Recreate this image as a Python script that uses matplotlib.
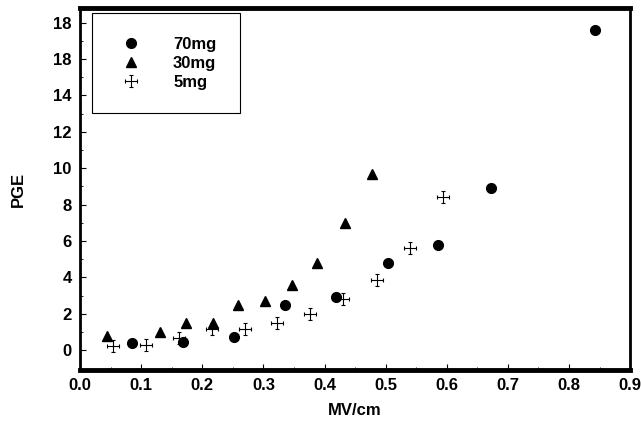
import matplotlib
matplotlib.use('Agg')
import matplotlib.pyplot as plt
from matplotlib.path import Path

# values
x70 = [0.085, 0.168, 0.251, 0.336, 0.419, 0.503, 0.586, 0.672, 0.842]
y70 = [0.4, 0.45, 0.7, 2.5, 2.9, 4.8, 5.8, 8.9, 17.6]
x30 = [0.044, 0.130, 0.174, 0.217, 0.259, 0.303, 0.347, 0.388, 0.433, 0.477]
y30 = [0.8, 1.0, 1.5, 1.5, 2.5, 2.7, 3.6, 4.8, 7.0, 9.7]
x5 = [0.054, 0.107, 0.161, 0.215, 0.269, 0.322, 0.376, 0.430, 0.485, 0.539, 0.594]
y5 = [0.2, 0.3, 0.65, 1.15, 1.15, 1.5, 2.0, 2.8, 3.85, 5.6, 8.4]

yticks = [0, 2, 4, 6, 8, 10, 12, 14, 16, 18]
ylabels = ['0', '2', '4', '6', '8', '10', '12', '14', '18', '18']
xticks = [0.0, 0.1, 0.2, 0.3, 0.4, 0.5, 0.6, 0.7, 0.8, 0.9]

plt.rcParams['font.family'] = ['Liberation Sans', 'DejaVu Sans']
plt.rcParams['font.weight'] = 'bold'

# plus sign with little end caps, like the scanned 5mg symbol
c = 0.35
verts = [(-1, 0), (1, 0), (0, -1), (0, 1),
         (-1, -c), (-1, c), (1, -c), (1, c),
         (-c, -1), (c, -1), (-c, 1), (c, 1)]
codes = [Path.MOVETO, Path.LINETO] * 6
capplus = Path(verts, codes)

fig = plt.figure(figsize=(6.41, 4.24), dpi=100)
ax = fig.add_axes([0.125, 0.127, 0.858, 0.854])

ax.plot(x70, y70, 'o', color='black', ms=7, label='70mg')
ax.plot(x30, y30, '^', color='black', ms=6.5, label='30mg')
ax.plot(x5, y5, linestyle='none', marker=capplus, color='black', ms=8,
        mew=0.8, label='5mg')

ax.set_xlim(0, 0.9)
ax.set_ylim(-1.1, 18.8)
ax.set_xticks(xticks)
ax.set_xticklabels(['%.1f' % v for v in xticks], fontsize=12, fontweight='bold')
ax.set_yticks(yticks)
ax.set_yticklabels(ylabels, fontsize=12, fontweight='bold')
ax.set_xticks([0.05 + 0.1 * i for i in range(9)], minor=True)
ax.set_yticks([1, 3, 5, 7, 9, 11, 13, 15, 17], minor=True)
ax.tick_params(direction='in', length=4, width=0.8, pad=6)
ax.tick_params(which='minor', direction='in', length=2, width=0.6)

ax.spines['top'].set_linewidth(3.5)
ax.spines['bottom'].set_linewidth(3.5)
ax.spines['left'].set_linewidth(2)
ax.spines['right'].set_linewidth(2)

ax.set_xlabel('MV/cm', fontsize=12, fontweight='bold', labelpad=7)
ax.set_ylabel('PGE', fontsize=12, fontweight='bold', labelpad=20)

leg = ax.legend(loc='upper left', bbox_to_anchor=(0.022, 0.985), fancybox=False,
                edgecolor='black', framealpha=1, borderpad=1.4, handletextpad=1.55,
                labelspacing=0.25, prop={'weight': 'bold', 'size': 12},
                handlelength=1.9, numpoints=1, borderaxespad=0)
leg.get_frame().set_linewidth(0.8)

fig.savefig('out.png', dpi=100)
